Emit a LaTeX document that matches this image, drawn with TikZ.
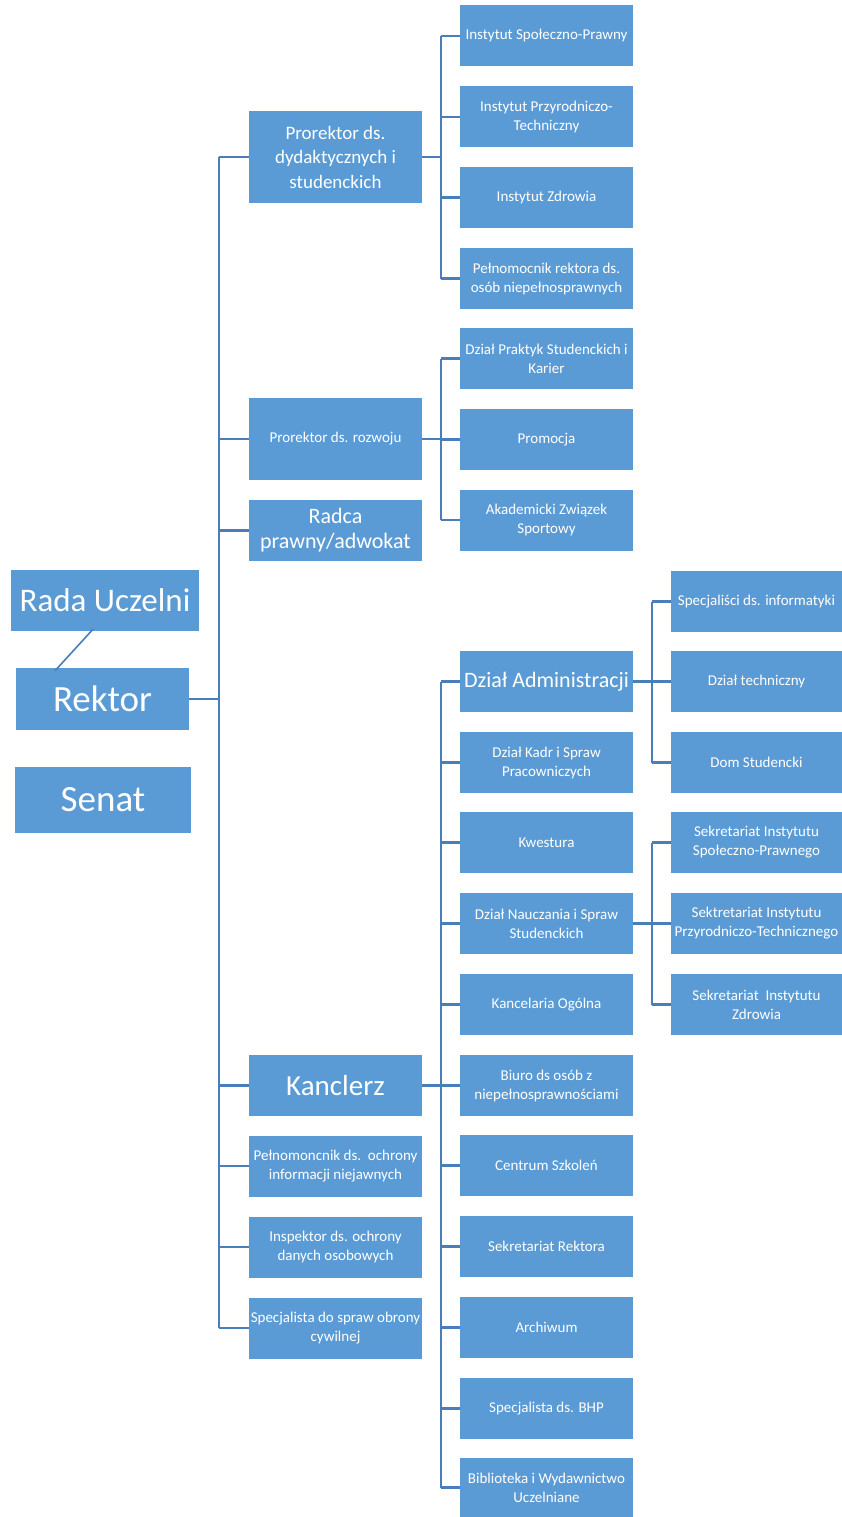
\documentclass[tikz,border=0pt]{standalone}
\usepackage{fontspec}
\setmainfont{Carlito}
\definecolor{boxblue}{HTML}{5B9BD5}
\definecolor{lineblue}{HTML}{4A7EBB}
\begin{document}
\begin{tikzpicture}[x=1pt,y=-1pt,
  box/.style={rectangle,fill=boxblue,text=white,align=center,inner sep=0pt,
    minimum width=173pt,minimum height=61pt,font=\fontsize{15}{19}\selectfont},
  bigbox/.style={box,font=\fontsize{22}{25}\selectfont},
  link/.style={draw=lineblue,line width=2.4pt}]
\useasboundingbox (0,0) rectangle (842,1517);
% column 1
\node[box,minimum width=188pt,font=\fontsize{33}{38}\selectfont] (rada) at (105,600.5) {Rada Uczelni};
\node[box,minimum height=62pt,font=\fontsize{37}{40}\selectfont] (rektor) at (102.5,699) {Rektor};
\node[box,minimum width=176pt,minimum height=66pt,font=\fontsize{37}{40}\selectfont] (senat) at (103,800) {Senat};
% column 2
\node[box,minimum height=92pt,font=\fontsize{19}{24.5}\selectfont] (pdyd) at (335.5,157) {Prorektor ds.\\dydaktycznych i\\studenckich};
\node[box,minimum height=82pt] (proz) at (335.5,439) {Prorektor ds. rozwoju};
\node[bigbox] (radca) at (335.5,530.5) {Radca\\prawny/adwokat};
\node[box,font=\fontsize{29}{32}\selectfont] (kancl) at (335.5,1085.5) {Kanclerz};
\node[box] (pelnom) at (335.5,1166) {Pełnomoncnik ds.\ \ ochrony\\informacji niejawnych};
\node[box] (insp) at (335.5,1247) {Inspektor ds. ochrony\\danych osobowych};
\node[box] (specob) at (335.5,1328) {Specjalista do spraw obrony\\cywilnej};
% column 3 - under Prorektor dyd
\node[box] (isp) at (546.5,36) {Instytut Społeczno-Prawny};
\node[box] (ipt) at (546.5,117) {Instytut Przyrodniczo-\\Techniczny};
\node[box] (iz) at (546.5,197.5) {Instytut Zdrowia};
\node[box] (pelrek) at (546.5,278.5) {Pełnomocnik rektora ds.\\osób niepełnosprawnych};
% under Prorektor rozwoju
\node[box] (dps) at (546.5,358.5) {Dział Praktyk Studenckich i\\Karier};
\node[box] (prom) at (546.5,439.5) {Promocja};
\node[box] (azs) at (546.5,520) {Akademicki Związek\\Sportowy};
% under Kanclerz
\node[bigbox] (dadm) at (546.5,681.5) {Dział Administracji};
\node[box] (dkadr) at (546.5,762.5) {Dział Kadr i Spraw\\Pracowniczych};
\node[box] (kwest) at (546.5,842.5) {Kwestura};
\node[box] (dnauk) at (546.5,923.5) {Dział Nauczania i Spraw\\Studenckich};
\node[box] (kanc) at (546.5,1004.5) {Kancelaria Ogólna};
\node[box] (biuro) at (546.5,1085.5) {Biuro ds osób z\\niepełnosprawnościami};
\node[box] (centr) at (546.5,1165.5) {Centrum Szkoleń};
\node[box] (sekrek) at (546.5,1246.5) {Sekretariat Rektora};
\node[box] (arch) at (546.5,1327.5) {Archiwum};
\node[box] (bhp) at (546.5,1408.5) {Specjalista ds. BHP};
\node[box,minimum height=59pt] (bibl) at (546.5,1487.5) {Biblioteka i Wydawnictwo\\Uczelniane};
% column 4
\node[box,minimum width=171pt] (spinf) at (756.5,601.5) {Specjaliści ds. informatyki};
\node[box,minimum width=171pt] (dtech) at (756.5,681.5) {Dział techniczny};
\node[box,minimum width=171pt] (domst) at (756.5,762.5) {Dom Studencki};
\node[box,minimum width=171pt] (ssp) at (756.5,842.5) {Sekretariat Instytutu\\Społeczno-Prawnego};
\node[box,minimum width=171pt] (spt) at (756.5,923.5) {Sektretariat Instytutu\\Przyrodniczo-Technicznego};
\node[box,minimum width=171pt] (sz) at (756.5,1004.5) {Sekretariat\ \ Instytutu\\Zdrowia};
% spine coordinates
\coordinate (s1) at (219,699);
\coordinate (s2a) at (441,157);
\coordinate (s2b) at (441,439);
\coordinate (s2c) at (441,1085.5);
\coordinate (s3a) at (652,681.5);
\coordinate (s3b) at (652,923.5);
% Rada - Rektor
\draw[draw=lineblue,line width=1.6pt] ([xshift=-12pt,yshift=2pt]rada.south) -- ([xshift=-47.5pt,yshift=-3pt]rektor.north);
% Rektor spine
\draw[link] (rektor.east) -- (s1);
\draw[link] (s1 |- pdyd.west) -- (s1 |- specob.west);
\foreach \n in {pdyd,proz,radca,kancl,pelnom,insp,specob}
  \draw[link] (\n.west) -- (\n.west -| s1);
% Prorektor dyd
\draw[link] (pdyd.east) -- (s2a);
\draw[link] (s2a |- isp.west) -- (s2a |- pelrek.west);
\foreach \n in {isp,ipt,iz,pelrek}
  \draw[link] (\n.west) -- (\n.west -| s2a);
% Prorektor rozwoju
\draw[link] (proz.east) -- (s2b);
\draw[link] (s2b |- dps.west) -- (s2b |- azs.west);
\foreach \n in {dps,prom,azs}
  \draw[link] (\n.west) -- (\n.west -| s2b);
% Kanclerz
\draw[link] (kancl.east) -- (s2c);
\draw[link] (s2c |- dadm.west) -- (s2c |- bibl.west);
\foreach \n in {dadm,dkadr,kwest,dnauk,kanc,biuro,centr,sekrek,arch,bhp,bibl}
  \draw[link] (\n.west) -- (\n.west -| s2c);
% Dzial Administracji
\draw[link] (dadm.east) -- (s3a);
\draw[link] (s3a |- spinf.west) -- (s3a |- domst.west);
\foreach \n in {spinf,dtech,domst}
  \draw[link] (\n.west) -- (\n.west -| s3a);
% Dzial Nauczania
\draw[link] (dnauk.east) -- (s3b);
\draw[link] (s3b |- ssp.west) -- (s3b |- sz.west);
\foreach \n in {ssp,spt,sz}
  \draw[link] (\n.west) -- (\n.west -| s3b);
\end{tikzpicture}
\end{document}
